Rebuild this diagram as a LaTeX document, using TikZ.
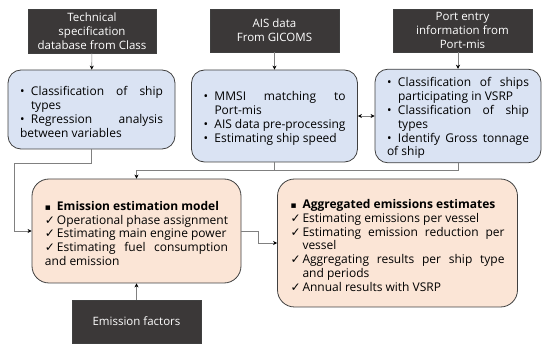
\documentclass[tikz,border=0pt]{standalone}
\usepackage{fontspec}
\setmainfont{Open Sans}
\newfontfamily\symfont{DejaVu Sans}
\usetikzlibrary{arrows.meta}
\hyphenpenalty=10000
\exhyphenpenalty=10000

\definecolor{darkfill}{HTML}{3B3838}
\definecolor{bluefill}{HTML}{DAE3F3}
\definecolor{orangefill}{HTML}{FBE5D6}
\definecolor{boxline}{HTML}{404040}
\definecolor{connline}{HTML}{808080}

% list entries inside the boxes
\newcommand{\bitem}[1]{\par\hangindent=11pt\hangafter=1\noindent\makebox[11pt][l]{\textbullet}#1}
\newcommand{\citem}[1]{\par\hangindent=12pt\hangafter=1\noindent\makebox[12pt][l]{{\symfont ✓}}#1}
\newcommand{\sitem}[1]{\par\hangindent=12pt\hangafter=1\noindent\makebox[12pt][l]{{\symfont\small ▪}}\textbf{#1}}

\tikzset{
  srcbox/.style={draw=boxline, fill=darkfill, text=white, align=center,
    inner sep=2pt, font=\fontsize{11.5pt}{14pt}\selectfont},
  taskbox/.style={draw=boxline, thick, fill=bluefill, rounded corners=13pt,
    align=justify, inner xsep=12pt, inner ysep=4pt,
    font=\fontsize{12pt}{13.8pt}\selectfont},
  modelbox/.style={draw=boxline, thick, fill=orangefill, rounded corners=17pt,
    align=justify, inner xsep=13pt, inner ysep=4pt,
    font=\fontsize{12pt}{13.8pt}\selectfont},
  conn/.style={draw=connline, line width=0.6pt, -{Stealth[length=4pt,width=4pt,black]}},
}

\begin{document}
\begin{tikzpicture}[x=1pt, y=-1pt]
\useasboundingbox (0,0) rectangle (550,350);

% data sources
\node[srcbox, minimum width=128pt, minimum height=44pt] (tech) at (92,31)
  {Technical\\specification\\database from Class};
\node[srcbox, minimum width=129pt, minimum height=43pt] (ais) at (274.5,30.5)
  {AIS data\\From GICOMS};
\node[srcbox, minimum width=139pt, minimum height=43pt] (port) at (462.5,30.5)
  {Port entry\\information from\\Port-mis};

% processing steps
\node[taskbox, text width=143pt, minimum height=79pt] (ship) at (91.5,109.5)
  {\bitem{Classification of ship types}
   \bitem{Regression analysis between variables}};
\node[taskbox, text width=142pt, minimum height=92pt] (aisproc) at (274.5,116)
  {\bitem{MMSI matching to Port-mis}
   \bitem{AIS data pre-processing}
   \bitem{Estimating ship speed}};
\node[taskbox, text width=142pt, minimum height=92pt] (vsrp) at (458,116)
  {\bitem{Classification of ships participating in VSRP}
   \bitem{Classification of ship types}
   \bitem{Identify Gross tonnage of ship}};

% model and results
\node[modelbox, text width=183pt, minimum height=104pt] (model) at (136.5,231)
  {\sitem{Emission estimation model}
   \citem{Operational phase assignment}
   \citem{Estimating main engine power}
   \citem{Estimating fuel consumption and emission}};
\node[modelbox, text width=214pt, minimum height=128pt] (result) at (397.5,243)
  {\sitem{Aggregated emissions estimates}
   \citem{Estimating emissions per vessel}
   \citem{Estimating emission reduction per vessel}
   \citem{Aggregating results per ship type and periods}
   \citem{Annual results with VSRP}};
\node[srcbox, minimum width=129pt, minimum height=43pt] (factor) at (136.5,321.5)
  {Emission factors};

\coordinate (left) at (14,163);
\coordinate (join) at (136.5,170);

% connectors
\draw[conn] (tech) -- (ship);
\draw[conn] (ais) -- (aisproc);
\draw[conn] (vsrp.north |- port.south) -- (vsrp.north);
\draw[conn, {Stealth[length=4pt,width=4pt,black]}-{Stealth[length=4pt,width=4pt,black]}] (aisproc) -- (vsrp);
\draw[conn] (ship.south) |- (left) |- (model.west);
\draw[conn] (vsrp.south) |- (join) -- (model.north);
\draw[draw=connline, line width=0.6pt] (aisproc.south) -- (aisproc.south |- join);
\draw[conn] (model.east) -- ++(17,0) |- (result.west);
\draw[conn] (factor) -- (model);
\end{tikzpicture}
\end{document}
